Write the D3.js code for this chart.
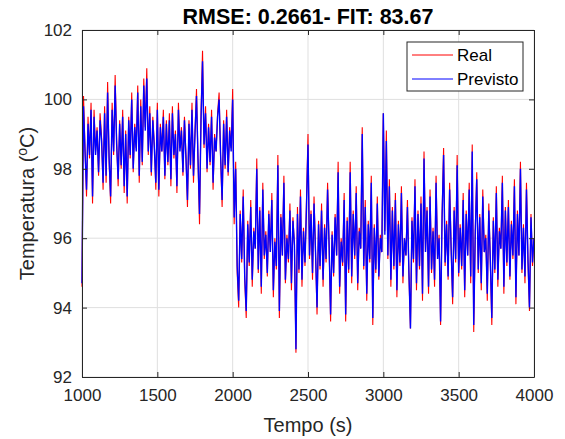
<!DOCTYPE html>
<html>
<head>
<meta charset="utf-8">
<script src="https://cdn.jsdelivr.net/npm/d3@7"></script>
<style>
  body { margin: 0; background: #fff; }
  text { font-family: "Liberation Sans", Arial, Helvetica, sans-serif; }
</style>
</head>
<body>
<svg id="chart" width="565" height="439"></svg>
<script>
//data - sampled every 10 s from 1000 to 4000

const tempo = d3.range(1000, 4001, 10);

const real = [
  94.6, 100.1, 98.6, 97.2, 99.5, 98.3, 99.9, 97.0, 99.7, 98.5,
  99.2, 97.8, 99.6, 98.9, 97.4, 99.8, 97.6, 100.5, 98.2, 97.0,
  99.9, 98.4, 100.7, 98.8, 97.5, 99.4, 98.0, 99.7, 97.3, 99.1,
  97.0, 99.5, 98.3, 100.2, 97.9, 99.3, 98.6, 100.4, 97.6, 100.0,
  98.1, 100.6, 99.2, 100.9, 98.4, 99.8, 97.8, 99.5, 98.7, 97.4,
  99.9, 97.2, 99.3, 98.5, 99.7, 97.7, 99.4, 98.1, 99.6, 97.5,
  99.8, 98.3, 99.1, 97.3, 99.9, 98.6, 99.2, 97.8, 99.5, 98.4,
  96.9, 99.4, 98.0, 99.9, 97.6, 99.1, 100.3, 98.2, 96.4, 99.6,
  101.4, 98.6, 99.8, 97.9, 99.3, 98.1, 99.7, 97.4, 99.0, 98.5,
  99.6, 100.2, 98.3, 96.9, 99.4, 98.0, 99.7, 97.8, 99.2, 98.6,
  100.3, 96.4, 98.2, 95.0, 94.0, 96.8, 95.3, 97.4, 94.8, 93.7,
  96.5, 95.2, 97.1, 94.6, 96.3, 95.7, 98.3, 95.0, 96.9, 94.4,
  97.6, 95.4, 96.2, 94.9, 96.8, 95.6, 97.3, 94.3, 96.0, 95.1,
  98.4, 93.7, 96.7, 95.5, 97.8, 94.7, 96.1, 95.3, 97.0, 94.5,
  96.6, 95.8, 92.7, 96.9, 95.0, 97.4, 94.6, 96.3, 95.2, 97.1,
  99.0, 95.4, 96.8, 94.8, 97.2, 95.6, 93.8, 96.5, 95.1, 97.0,
  94.6, 96.4, 95.3, 97.6, 95.8, 93.6, 96.2, 94.9, 96.7, 95.5,
  98.2, 94.4, 96.0, 95.2, 97.3, 93.6, 96.6, 95.0, 98.2, 94.7,
  96.8, 95.4, 97.5, 94.5, 96.3, 95.7, 99.2, 95.1, 97.1, 94.2,
  96.5, 95.3, 97.8, 93.5, 96.4, 95.0, 97.2, 94.8, 96.1, 95.6,
  99.6, 96.2, 99.1, 95.4, 97.7, 94.6, 96.9, 95.1, 97.3, 94.3,
  96.5, 95.2, 97.5, 94.7, 96.0, 95.5, 97.1, 94.9, 93.4, 96.6,
  95.3, 97.7, 94.5, 96.8, 95.1, 97.2, 94.2, 98.5, 95.6, 96.9,
  94.4, 97.4, 95.0, 96.3, 94.6, 97.8, 95.4, 96.1, 93.5, 96.7,
  98.6, 95.2, 96.5, 94.8, 97.6, 95.7, 94.1, 96.9, 95.3, 98.4,
  94.9, 96.4, 95.1, 97.3, 94.3, 96.8, 95.5, 97.6, 94.7, 98.7,
  93.3, 96.2, 97.9, 95.0, 96.7, 94.5, 97.4, 95.6, 96.1, 94.2,
  97.0, 95.3, 93.5, 96.6, 95.0, 97.5, 94.6, 96.3, 95.7, 97.8,
  94.4, 96.9, 95.2, 97.1, 94.8, 96.5, 95.4, 97.7, 94.1, 96.8,
  95.5, 98.2, 95.0, 96.4, 94.7, 97.6, 95.3, 93.9, 96.7, 95.2,
  96.0
];

const previsto = [
  94.7, 99.8, 98.5, 97.4, 99.3, 98.4, 99.7, 97.2, 99.5, 98.4,
  99.1, 97.9, 99.4, 98.8, 97.6, 99.6, 97.8, 100.2, 98.3, 97.2,
  99.7, 98.5, 100.4, 98.7, 97.7, 99.3, 98.1, 99.5, 97.5, 99.0,
  97.2, 99.4, 98.4, 100.0, 98.0, 99.2, 98.5, 100.2, 97.8, 99.8,
  98.2, 100.4, 99.1, 100.6, 98.5, 99.6, 97.9, 99.4, 98.6, 97.6,
  99.7, 97.4, 99.2, 98.5, 99.5, 97.8, 99.3, 98.2, 99.4, 97.7,
  99.6, 98.4, 99.0, 97.5, 99.7, 98.5, 99.1, 97.9, 99.4, 98.3,
  97.1, 99.3, 98.1, 99.7, 97.8, 99.0, 100.1, 98.3, 96.7, 99.4,
  101.1, 98.7, 99.6, 98.0, 99.2, 98.2, 99.5, 97.6, 98.9, 98.5,
  99.5, 100.0, 98.4, 97.1, 99.3, 98.1, 99.5, 97.9, 99.1, 98.5,
  100.0, 96.6, 98.0, 95.2, 94.2, 96.7, 95.4, 97.2, 94.9, 93.9,
  96.4, 95.3, 96.9, 94.8, 96.2, 95.7, 98.0, 95.1, 96.8, 94.6,
  97.4, 95.5, 96.1, 95.0, 96.7, 95.6, 97.1, 94.5, 95.9, 95.2,
  98.1, 93.9, 96.6, 95.5, 97.6, 94.8, 96.0, 95.4, 96.8, 94.7,
  96.5, 95.8, 92.8, 96.7, 95.1, 97.2, 94.8, 96.2, 95.3, 96.9,
  98.7, 95.5, 96.7, 95.0, 97.0, 95.6, 94.0, 96.4, 95.2, 96.8,
  94.8, 96.3, 95.4, 97.4, 95.8, 93.8, 96.1, 95.0, 96.6, 95.5,
  97.9, 94.6, 95.9, 95.3, 97.1, 93.8, 96.5, 95.1, 97.9, 94.9,
  96.7, 95.5, 97.3, 94.7, 96.2, 95.7, 99.0, 95.2, 96.9, 94.4,
  96.4, 95.4, 97.6, 93.7, 96.3, 95.1, 97.0, 94.9, 96.0, 95.6,
  99.6, 96.1, 98.8, 95.5, 97.5, 94.8, 96.8, 95.2, 97.1, 94.5,
  96.4, 95.3, 97.3, 94.9, 96.0, 95.5, 96.9, 95.0, 93.4, 96.5,
  95.4, 97.5, 94.7, 96.7, 95.2, 97.0, 94.4, 98.3, 95.6, 96.8,
  94.6, 97.2, 95.1, 96.2, 94.8, 97.6, 95.4, 96.0, 93.6, 96.6,
  98.4, 95.3, 96.4, 94.9, 97.4, 95.7, 94.3, 96.8, 95.4, 98.1,
  95.0, 96.3, 95.2, 97.1, 94.5, 96.7, 95.5, 97.4, 94.9, 98.5,
  93.5, 96.1, 97.7, 95.1, 96.6, 94.7, 97.2, 95.6, 96.0, 94.4,
  96.8, 95.4, 93.7, 96.5, 95.1, 97.3, 94.8, 96.2, 95.7, 97.6,
  94.6, 96.8, 95.3, 96.9, 94.9, 96.4, 95.5, 97.5, 94.3, 96.7,
  95.5, 98.0, 95.1, 96.3, 94.9, 97.4, 95.4, 94.0, 96.6, 95.3,
  96.0
];

const xTicks = [1000, 1500, 2000, 2500, 3000, 3500, 4000];
const yTicks = [92, 94, 96, 98, 100, 102];
const seriesNames = ["Real", "Previsto"];
const seriesColors = ["#ff0000", "#0000ff"];

//layout
const margin = {top: 30, right: 31, bottom: 62, left: 82};
const width = 565 - margin.left - margin.right;
const height = 439 - margin.top - margin.bottom;
const axisColor = "#262626";

const svg = d3.select("#chart");

svg.append("rect")
   .attr("width", 565)
   .attr("height", 439)
   .attr("fill", "#fff");

const g = svg.append("g")
             .attr("transform", `translate(${margin.left}, ${margin.top})`);

//scales
const x = d3.scaleLinear()
            .domain([1000, 4000])
            .range([0, width]);

const y = d3.scaleLinear()
            .domain([92, 102])
            .range([height, 0]);

//grid
g.append("g")
 .selectAll("line")
 .data(xTicks)
 .enter().append("line")
 .attr("x1", d => x(d)).attr("x2", d => x(d))
 .attr("y1", 0).attr("y2", height)
 .attr("stroke", "#dfdfdf")
 .attr("stroke-width", 1);

g.append("g")
 .selectAll("line")
 .data(yTicks)
 .enter().append("line")
 .attr("x1", 0).attr("x2", width)
 .attr("y1", d => y(d)).attr("y2", d => y(d))
 .attr("stroke", "#dfdfdf")
 .attr("stroke-width", 1);

//lines - real first, previsto on top
const line = d3.line()
               .x((d, i) => x(tempo[i]))
               .y(d => y(d));

const lineWidths = [1.1, 1.4];

[real, previsto].forEach((serie, k) => {
  g.append("path")
   .datum(serie)
   .attr("fill", "none")
   .attr("stroke", seriesColors[k])
   .attr("stroke-width", lineWidths[k])
   .attr("d", line);
});

//axes (ticks inside, box on)
const xAxis = g.append("g")
               .attr("transform", `translate(0, ${height})`)
               .call(d3.axisBottom(x).tickValues(xTicks).tickFormat(d3.format("d")).tickSize(-5).tickPadding(12).tickSizeOuter(0));

const xAxisTop = g.append("g")
                  .call(d3.axisTop(x).tickValues(xTicks).tickSize(-5).tickFormat("").tickSizeOuter(0));

const yAxis = g.append("g")
               .call(d3.axisLeft(y).tickValues(yTicks).tickSize(-5).tickPadding(10).tickSizeOuter(0));

const yAxisRight = g.append("g")
                    .attr("transform", `translate(${width}, 0)`)
                    .call(d3.axisRight(y).tickValues(yTicks).tickSize(-5).tickFormat("").tickSizeOuter(0));

[xAxis, xAxisTop, yAxis, yAxisRight].forEach(a => {
  a.select(".domain").attr("stroke", axisColor);
  a.selectAll(".tick line").attr("stroke", axisColor);
  a.selectAll("text")
   .attr("fill", axisColor)
   .style("font-size", "17px")
   .style("font-family", "'Liberation Sans', Arial, sans-serif");
});

//labels
svg.append("text")
   .attr("x", margin.left + width / 2)
   .attr("y", 24)
   .attr("text-anchor", "middle")
   .attr("fill", "#000")
   .style("font-size", "21.5px")
   .style("font-weight", "bold")
   .text("RMSE: 0.2661- FIT: 83.67");

svg.append("text")
   .attr("x", margin.left + width / 2)
   .attr("y", 432)
   .attr("text-anchor", "middle")
   .attr("fill", axisColor)
   .style("font-size", "20px")
   .text("Tempo (s)");

const yLabel = svg.append("text")
                  .attr("transform", `translate(34, ${margin.top + height / 2}) rotate(-90)`)
                  .attr("text-anchor", "middle")
                  .attr("fill", axisColor)
                  .style("font-size", "20px");
yLabel.append("tspan").text("Temperatura (");
yLabel.append("tspan").attr("dy", -7).style("font-size", "14px").text("o");
yLabel.append("tspan").attr("dy", 7).text("C)");

//legend
const legend = svg.append("g")
                  .attr("transform", "translate(407, 42)");

legend.append("rect")
      .attr("width", 116)
      .attr("height", 49)
      .attr("fill", "#fff")
      .attr("stroke", axisColor)
      .attr("stroke-width", 1);

seriesNames.forEach((name, i) => {
  legend.append("line")
        .attr("x1", 5).attr("x2", 46)
        .attr("y1", 13 + i * 24).attr("y2", 13 + i * 24)
        .attr("stroke", seriesColors[i])
        .attr("stroke-width", 1);
  legend.append("text")
        .attr("x", 50)
        .attr("y", 19 + i * 24)
        .attr("fill", "#000")
        .style("font-size", "17px")
        .text(name);
});
</script>
</body>
</html>
